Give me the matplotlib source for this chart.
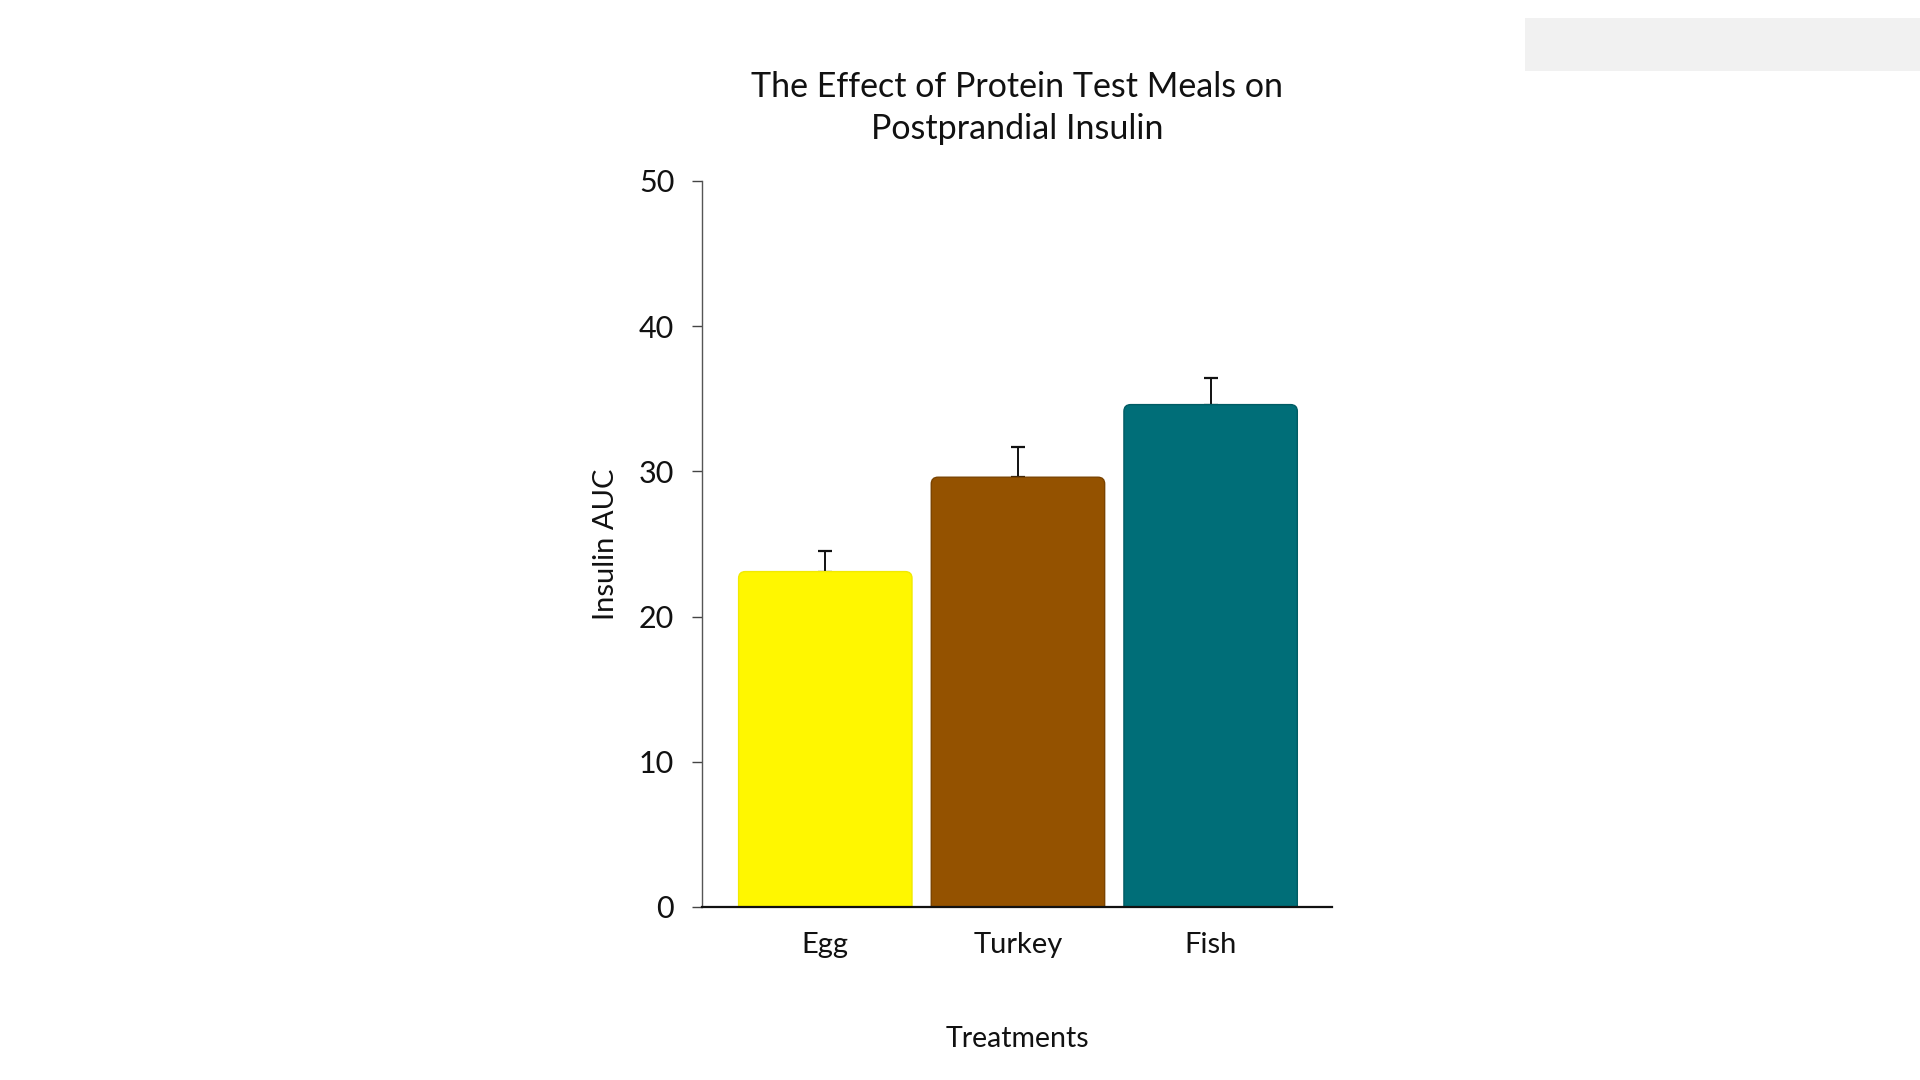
import matplotlib
matplotlib.use("Agg")
import matplotlib.pyplot as plt
from matplotlib.patches import FancyBboxPatch, Rectangle
import numpy as np

categories = ["Egg", "Turkey", "Fish"]
values = [23.1, 29.6, 34.6]
errors = [1.45, 2.05, 1.8]
colors = ["#FFF700", "#945200", "#006E78"]
edge_colors = ["#F2EA00", "#7A4300", "#005C64"]
yticks = [0, 10, 20, 30, 40, 50]

plt.rcParams['font.family'] = ['Lato', 'DejaVu Sans']

fig = plt.figure(figsize=(19.2, 10.8), dpi=100)
fig.patch.set_facecolor("white")
# faint grey box in the top-right corner
fig.patches.append(Rectangle((1525/1920, 1-71/1080), (1920-1525)/1920, 53/1080,
                             transform=fig.transFigure, facecolor="#F1F1F1",
                             edgecolor="none", zorder=0))

ax = fig.add_axes([702/1920, 1-907/1080, 630/1920, 726/1080])
x = np.arange(len(categories))
bars = ax.bar(x, values, width=0.9, color=colors, zorder=2)

# replace with rounded-corner versions derived from the bar geometry
px_per_x = 630 / (2.63 + 0.64)
px_per_y = 726 / 50
aspect = px_per_x / px_per_y
for b, fc, ec in zip(bars, colors, edge_colors):
    b.set_visible(False)
    p = FancyBboxPatch((b.get_x(), -2), b.get_width(), b.get_height() + 2,
                       boxstyle="round,pad=0,rounding_size=0.035",
                       mutation_aspect=aspect, facecolor=fc, edgecolor=ec,
                       linewidth=1.0, zorder=2, clip_on=True)
    ax.add_patch(p)

ax.errorbar(x, values, yerr=[np.zeros(len(errors)), errors], fmt="none",
            ecolor="#111111", elinewidth=1.4, capsize=5, capthick=1.6, zorder=1)

ax.set_xlim(-0.64, 2.63)
ax.set_ylim(0, 50)
ax.set_yticks(yticks)
ax.set_xticks(x)
ax.set_xticklabels(categories)

for s in ["top", "right"]:
    ax.spines[s].set_visible(False)
ax.spines["left"].set_color("#555555")
ax.spines["left"].set_linewidth(1.0)
ax.spines["bottom"].set_color("#111111")
ax.spines["bottom"].set_linewidth(1.6)

ax.tick_params(axis="y", length=7, width=1.0, color="#444444", pad=13,
               labelsize=22, labelcolor="#111111")
ax.tick_params(axis="x", length=0, pad=18, labelsize=21, labelcolor="#111111")

ax.set_ylabel("Insulin AUC", fontsize=21, color="#111111")
ax.yaxis.set_label_coords(-0.132, 0.5)
ax.set_xlabel("Treatments", fontsize=20.5, color="#111111", va="center")
ax.xaxis.set_label_coords(0.5, -0.182)

fig.text((702 + 1332) / 2 / 1920, 1 - 108 / 1080,
         "The Effect of Protein Test Meals on\nPostprandial Insulin",
         ha="center", va="center", fontsize=24.5, color="#111111",
         linespacing=1.4, multialignment="center")

fig.savefig("out.png", dpi=100, facecolor="white")
